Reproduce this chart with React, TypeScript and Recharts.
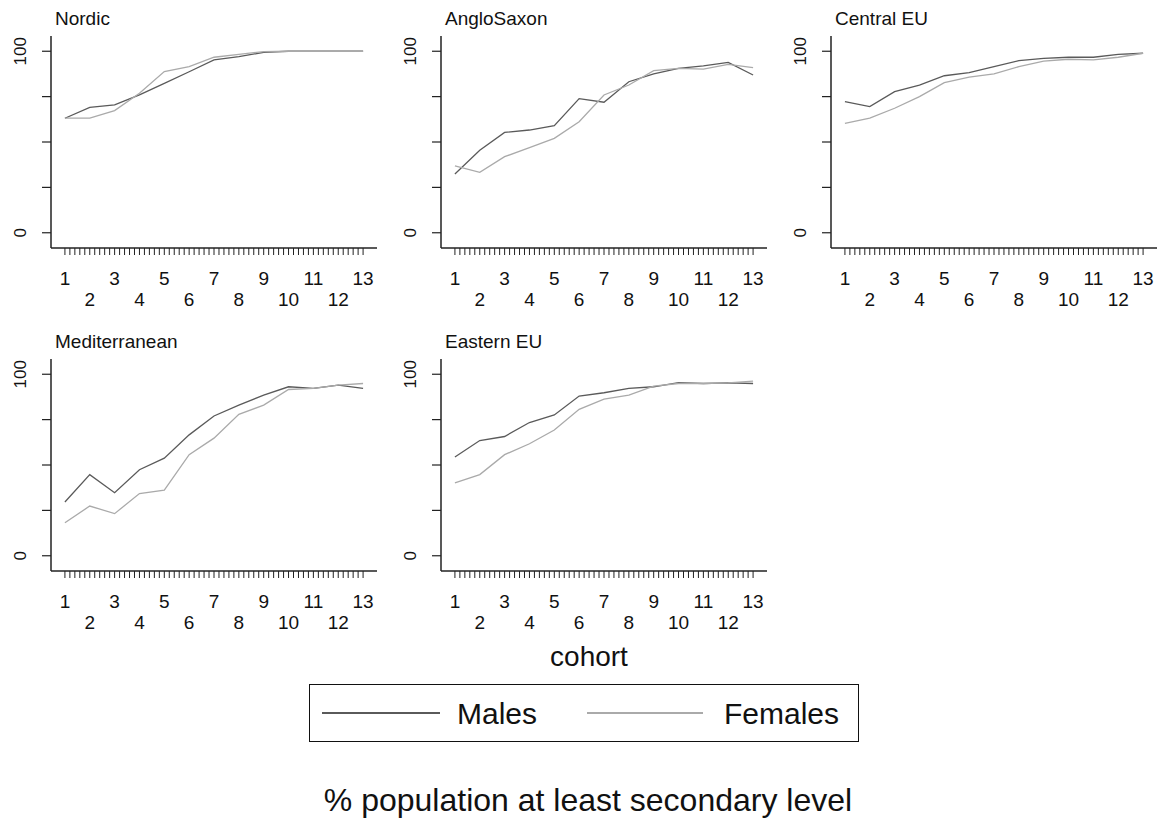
import React from 'react';
import { LineChart, Line, XAxis, YAxis } from 'recharts';

const cohorts = [1, 2, 3, 4, 5, 6, 7, 8, 9, 10, 11, 12, 13];

const nordicMales = [63.1, 69.1, 70.4, 76, 82.3, 88.7, 95.2, 97, 99.4, 100, 100, 100, 100];
const nordicFemales = [63.1, 63.1, 67.3, 76.8, 88.8, 91.5, 96.7, 98.3, 99.8, 100, 100, 100, 100];
const angloMales = [32.4, 45.5, 55.3, 56.6, 59, 73.9, 71.9, 83.2, 87.5, 90.6, 91.9, 93.9, 86.9];
const angloFemales = [36.9, 33.3, 41.9, 46.9, 52, 61.2, 75.9, 81.4, 89.3, 90.6, 90.2, 92.8, 91];
const centralMales = [72.2, 69.5, 77.7, 81.4, 86.5, 88.2, 91.5, 94.8, 96.1, 96.7, 96.7, 98.3, 98.9];
const centralFemales = [60.3, 63.1, 68.6, 75, 82.7, 85.7, 87.5, 91.5, 94.6, 95.6, 95.2, 96.7, 98.9];
const medMales = [29.6, 44.7, 34.7, 47.4, 53.8, 66.6, 77, 83, 88.5, 93.1, 92.2, 94, 92.2];
const medFemales = [18.2, 27.4, 23.2, 34.3, 36.1, 55.7, 64.8, 77.9, 83, 91.6, 92.2, 94, 94.9];
const eastMales = [54.4, 63.5, 65.7, 73.4, 77.6, 88, 89.8, 92.2, 93.1, 95.4, 94.9, 95.3, 94.9];
const eastFemales = [40.1, 44.7, 55.7, 61.7, 69.3, 80.7, 86.3, 88.5, 93.4, 94.9, 94.9, 95.3, 96.2];

const yTicks = [0, 25, 50, 75, 100];
const yLabels = [0, 100];

const panelTitles = ['Nordic', 'AngloSaxon', 'Central EU', 'Mediterranean', 'Eastern EU'];
const seriesNames = ['Males', 'Females'];
const xTitle = 'cohort';
const chartTitle = '% population at least secondary level';

const MALE = '#5a5a5a';
const FEMALE = '#aaaaaa';
const FONT = '"Liberation Sans", Arial, sans-serif';

// minor tick positions (5 per cohort step)
const xTicks: number[] = [];
for (let i = 0; i <= 60; i++) xTicks.push(Math.round((1 + i * 0.2) * 10) / 10);

const panels = [
  { title: panelTitles[0], m: nordicMales, f: nordicFemales, col: 0, row: 0 },
  { title: panelTitles[1], m: angloMales, f: angloFemales, col: 1, row: 0 },
  { title: panelTitles[2], m: centralMales, f: centralFemales, col: 2, row: 0 },
  { title: panelTitles[3], m: medMales, f: medFemales, col: 0, row: 1 },
  { title: panelTitles[4], m: eastMales, f: eastFemales, col: 1, row: 1 },
];

const XTick = (props: any) => {
  const { x, y, payload } = props;
  const v = payload.value;
  if (!Number.isInteger(v)) return <g />;
  const odd = v % 2 === 1;
  return (
    <text x={x} y={y + (odd ? 28 : 49)} textAnchor="middle" fontSize={19} fontFamily={FONT} fill="#111">
      {v}
    </text>
  );
};

const YTick = (props: any) => {
  const { x, y, payload } = props;
  const v = payload.value;
  if (!yLabels.includes(v)) return <g />;
  const cx = x - 19;
  return (
    <text
      x={cx}
      y={y}
      textAnchor="middle"
      dominantBaseline="central"
      fontSize={17}
      fontFamily={FONT}
      fill="#111"
      transform={`rotate(-90 ${cx} ${y})`}
    >
      {v}
    </text>
  );
};

const Panel = ({ p }: { p: any }) => {
  const data = cohorts.map((c, i) => ({ cohort: c, males: p.m[i], females: p.f[i] }));
  const left = p.col * 390;
  const top = p.row === 0 ? 0 : 323;
  return (
    <div style={{ position: 'absolute', left, top }}>
      <LineChart width={390} height={330} data={data} margin={{ top: 36, right: 13, bottom: 22, left: 0 }}>
        <XAxis
          dataKey="cohort"
          type="number"
          domain={[0.44, 13.56]}
          ticks={xTicks}
          interval={0}
          tickSize={7}
          tickMargin={2}
          height={60}
          tick={XTick}
          axisLine={{ stroke: '#222', strokeWidth: 1.5 }}
          tickLine={{ stroke: '#222', strokeWidth: 1 }}
          allowDataOverflow
        />
        <YAxis
          type="number"
          domain={[-8.4, 108.4]}
          ticks={yTicks}
          interval={0}
          tickSize={9}
          tickMargin={2}
          width={51}
          tick={YTick}
          axisLine={{ stroke: '#222', strokeWidth: 1.5 }}
          tickLine={{ stroke: '#222', strokeWidth: 1.2 }}
          allowDataOverflow
        />
        <Line type="linear" dataKey="males" stroke={MALE} strokeWidth={1.3} dot={false} isAnimationActive={false} />
        <Line type="linear" dataKey="females" stroke={FEMALE} strokeWidth={1.3} dot={false} isAnimationActive={false} />
      </LineChart>
    </div>
  );
};

export default function App() {
  return (
    <div style={{ position: 'absolute', left: 0, top: 0, width: 1160, height: 823, background: '#fff', overflow: 'hidden' }}>
      {panels.map((p) => (
        <Panel key={p.title} p={p} />
      ))}
      <svg width={1160} height={823} style={{ position: 'absolute', left: 0, top: 0, pointerEvents: 'none' }}>
        {panels.map((p) => (
          <text
            key={p.title}
            x={p.col * 390 + 55}
            y={p.row === 0 ? 25 : 348}
            fontSize={19}
            fontFamily={FONT}
            fill="#111"
          >
            {p.title}
          </text>
        ))}
        <text x={589} y={666} textAnchor="middle" fontSize={28} fontFamily={FONT} fill="#111">
          {xTitle}
        </text>
        <rect x={309.5} y={684.5} width={549} height={57} fill="none" stroke="#111" strokeWidth={1} />
        <line x1={322} x2={440} y1={713} y2={713} stroke={MALE} strokeWidth={2} />
        <text x={457} y={724} fontSize={30} fontFamily={FONT} fill="#111">
          {seriesNames[0]}
        </text>
        <line x1={587} x2={703} y1={713} y2={713} stroke={FEMALE} strokeWidth={2} />
        <text x={724} y={724} fontSize={30} fontFamily={FONT} fill="#111">
          {seriesNames[1]}
        </text>
        <text x={588} y={811} textAnchor="middle" fontSize={32} fontFamily={FONT} fill="#111">
          {chartTitle}
        </text>
      </svg>
    </div>
  );
}
